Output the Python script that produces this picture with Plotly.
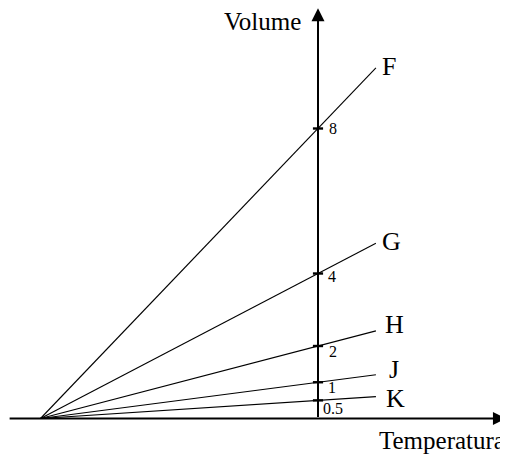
import plotly.graph_objects as go

# ---- data ----
line_labels = ["F", "G", "H", "J", "K"]
volumes_at_zero = [8, 4, 2, 1, 0.5]      # volume at 0 °C (tick values on the volume axis)
tick_labels = ["8", "4", "2", "1", "0.5"]
absolute_zero = -273.15                  # common convergence temperature
line_end_temp = 57                       # temperature where the drawn lines stop
x_axis_span = [-305, 185]
y_axis_top = 11.32

# ---- style / layout constants ----
# the page body adds an 8px margin, so the figure is drawn 8px smaller
W, H = 500, 447
PX_X = 1.016     # px per temperature unit
PX_Y = 36.25     # px per volume unit
X0_PX, Y0_PX = 310, 410.5
FONT = "Liberation Serif"

x_range = [-X0_PX / PX_X, (W - X0_PX) / PX_X]
y_range = [-(H - Y0_PX) / PX_Y, Y0_PX / PX_Y]

fig = go.Figure()

# isochoric lines
for lab, v in zip(line_labels, volumes_at_zero):
    slope = v / (0 - absolute_zero)
    fig.add_trace(go.Scatter(
        x=[absolute_zero, line_end_temp],
        y=[0, slope * (line_end_temp - absolute_zero)],
        mode="lines", line=dict(color="black", width=1.1),
        hoverinfo="skip", showlegend=False))

# tick marks on the volume axis
tx, ty = [], []
for v in volumes_at_zero:
    tx += [-5, 5, None]
    ty += [v, v, None]
fig.add_trace(go.Scatter(x=tx, y=ty, mode="lines",
                         line=dict(color="black", width=2.4),
                         hoverinfo="skip", showlegend=False))

annotations = []
# axes with arrows
annotations.append(dict(x=x_axis_span[1], y=0, ax=x_axis_span[0], ay=0,
                        xref="x", yref="y", axref="x", ayref="y",
                        showarrow=True, arrowhead=2, arrowsize=1.3, arrowwidth=2,
                        arrowcolor="black", text="", standoff=0))
annotations.append(dict(x=0, y=y_axis_top, ax=0, ay=0,
                        xref="x", yref="y", axref="x", ayref="y",
                        showarrow=True, arrowhead=2, arrowsize=1.3, arrowwidth=2,
                        arrowcolor="black", text="", standoff=0))

# tick labels
tick_dx = [10, 9, 10, 9, 4]
tick_dy = [0, -3, -5, -5.5, -8.5]
for t, v, dx, dy in zip(tick_labels, volumes_at_zero, tick_dx, tick_dy):
    annotations.append(dict(x=0, y=v, xref="x", yref="y", text=t, showarrow=False,
                            xanchor="left", yanchor="middle", xshift=dx, yshift=dy,
                            borderpad=0,
                            font=dict(family=FONT, size=16, color="black")))

# line labels
lab_dx = [13, 16, 19, 18.5, 19.5]
lab_dy = [1, 2, 6.5, 5, -1.5]
for lab, v, dx, dy in zip(line_labels, volumes_at_zero, lab_dx, lab_dy):
    yend = v / (0 - absolute_zero) * (line_end_temp - absolute_zero)
    annotations.append(dict(x=line_end_temp, y=yend, xref="x", yref="y", text=lab,
                            showarrow=False, xanchor="center", yanchor="middle",
                            xshift=dx, yshift=dy,
                            font=dict(family=FONT, size=26, color="black")))

# axis titles
annotations.append(dict(x=0, y=y_axis_top, xref="x", yref="y", text="Volume",
                        showarrow=False, xanchor="center", yanchor="middle",
                        xshift=-55.5, yshift=-13.5,
                        font=dict(family=FONT, size=25, color="black")))
annotations.append(dict(x=x_axis_span[1], y=0, xref="x", yref="y", text="Temperatura",
                        showarrow=False, xanchor="right", yanchor="middle",
                        xshift=1, yshift=-22,
                        font=dict(family=FONT, size=25, color="black")))

fig.update_layout(
    width=W, height=H,
    margin=dict(l=0, r=0, t=0, b=0),
    paper_bgcolor="white", plot_bgcolor="white",
    xaxis=dict(range=x_range, visible=False, fixedrange=True),
    yaxis=dict(range=y_range, visible=False, fixedrange=True),
    annotations=annotations,
)

fig.write_html("out.html")
